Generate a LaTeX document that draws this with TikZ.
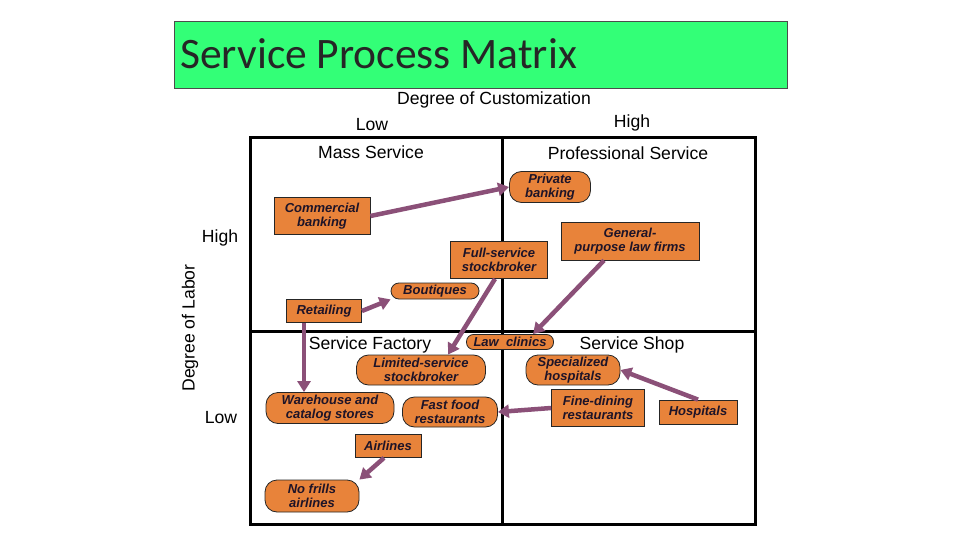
\documentclass[tikz,border=0pt]{standalone}
\usepackage{fontspec}
\newfontfamily\arialf{Liberation Sans}
\newfontfamily\calibf{Carlito}
\usetikzlibrary{arrows.meta,shapes.misc}
\definecolor{titlegreen}{RGB}{51,255,119}
\definecolor{boxorange}{RGB}{232,131,58}
\definecolor{arrowpurple}{RGB}{139,80,120}
\definecolor{boxtext}{RGB}{30,20,40}
\tikzset{
  sqbox/.style={draw=black!85, line width=0.8pt, fill=boxorange, align=center, inner sep=1pt,
    font=\arialf\bfseries\itshape\fontsize{13}{13.5}\selectfont, text=boxtext},
  rdbox/.style={sqbox, rounded corners=12pt},
  lbl/.style={font=\arialf\fontsize{17.6}{19}\selectfont, inner sep=0pt},
  conn/.style={draw=arrowpurple, line width=4.5pt, -{Triangle[length=11pt,width=13pt]}},
}
\begin{document}
\begin{tikzpicture}[x=1pt,y=-1pt]
\useasboundingbox (0,0) rectangle (960,540);
\fill[white] (0,0) rectangle (960,540);
% title
\draw[fill=titlegreen, draw=black!70, line width=0.8pt] (174,21) rectangle (787,88);
\node[anchor=west, inner sep=0pt, font=\calibf\fontsize{43.5}{44}\selectfont, text=black!85] (title) at (180,54) {Service Process Matrix};
% axis labels
\node[lbl] (custom) at (494,100) {Degree of Customization};
\node[lbl] (clow) at (372,125) {Low};
\node[lbl] (chigh) at (632,123) {High};
\node[lbl, rotate=90] (labor) at (190,328) {Degree of Labor};
\node[lbl] (lhigh) at (220,238) {High};
\node[lbl] (llow) at (221,418) {Low};
% matrix
\draw[line width=3pt] (250,138) rectangle (755,524);
\draw[line width=3pt] (502,138) -- (502,524);
\draw[line width=3pt] (250,331) -- (755,331);
\node[lbl] (mass) at (371,152) {Mass Service};
\node[lbl] (prof) at (628,153) {Professional Service};
\node[lbl] (fact) at (370,345) {Service Factory};
\node[lbl] (shop) at (632,345) {Service Shop};
% boxes
\node[rdbox, minimum width=81pt, minimum height=31pt] (pb) at (550,187) {Private\\banking};
\node[sqbox, minimum width=96pt, minimum height=37pt] (cb) at (322,216) {Commercial\\banking};
\node[sqbox, minimum width=138pt, minimum height=38pt] (gl) at (630,241) {General-\\purpose law firms};
\node[sqbox, minimum width=97pt, minimum height=37pt] (fs) at (499,260) {Full-service\\stockbroker};
\node[rdbox, rounded corners=8pt, minimum width=88pt, minimum height=16pt] (bt) at (435,291) {Boutiques};
\node[sqbox, minimum width=75pt, minimum height=23pt] (rt) at (324,311) {Retailing};
\node[rdbox, rounded corners=7pt, minimum width=87pt, minimum height=15pt] (lc) at (510,342) {Law\ \ clinics};
\node[rdbox, minimum width=129pt, minimum height=30pt] (ls) at (421,370) {Limited-service\\stockbroker};
\node[rdbox, minimum width=94pt, minimum height=30pt] (sh) at (573,370) {Specialized\\hospitals};
\node[rdbox, minimum width=128pt, minimum height=31pt] (wh) at (330,408) {Warehouse and\\catalog stores};
\node[rdbox, minimum width=95pt, minimum height=30pt] (ff) at (450,412) {Fast food\\restaurants};
\node[sqbox, minimum width=93pt, minimum height=37pt] (fd) at (598,408) {Fine-dining\\restaurants};
\node[sqbox, minimum width=78pt, minimum height=24pt] (hp) at (698,412) {Hospitals};
\node[sqbox, minimum width=66pt, minimum height=23pt] (al) at (388,446) {Airlines};
\node[rdbox, minimum width=94pt, minimum height=32pt] (nf) at (312,496) {No frills\\airlines};
% connectors
\draw[conn] (cb.east) -- (pb.west);
\draw[conn] (rt.east) -- (bt.south west);
\draw[conn] (rt.south -| 304,0) -- (wh.north -| 304,0);
\draw[conn] ([xshift=-4pt]fs.south) -- ([xshift=27pt]ls.north);
\draw[conn] ([xshift=-26pt]gl.south) -- ([xshift=23pt]lc.north);
\draw[conn] (fd.west) -- (ff.east);
\draw[conn] (hp.north) -- (sh.east);
\draw[conn] ([xshift=-4pt]al.south) -- (nf.north east);
\end{tikzpicture}
\end{document}
